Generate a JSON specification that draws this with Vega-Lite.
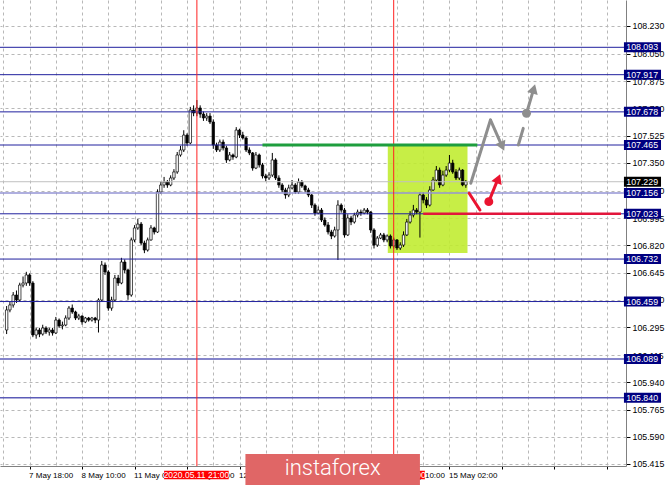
{
  "$schema": "https://vega.github.io/schema/vega-lite/v6.json",
  "width": 626,
  "height": 466,
  "autosize": {"type": "none"},
  "padding": {"left": 0, "top": 0, "right": 39, "bottom": 19},
  "background": "white",
  "config": {"view": {"stroke": null}},
  "resolve": {"axis": {"x": "independent", "y": "independent"}},
  "datasets": {
    "candles": [
      {"i":-7,"o":106.276,"h":106.43,"l":106.25,"c":106.405},
      {"i":-6,"o":106.405,"h":106.46,"l":106.39,"c":106.437},
      {"i":-5,"o":106.437,"h":106.52,"l":106.42,"c":106.501},
      {"i":-4,"o":106.501,"h":106.53,"l":106.45,"c":106.469},
      {"i":-3,"o":106.469,"h":106.58,"l":106.46,"c":106.565},
      {"i":-2,"o":106.565,"h":106.62,"l":106.55,"c":106.578},
      {"i":-1,"o":106.578,"h":106.65,"l":106.56,"c":106.63},
      {"i":0,"o":106.63,"h":106.64,"l":106.56,"c":106.578},
      {"i":1,"o":106.578,"h":106.59,"l":106.23,"c":106.244},
      {"i":2,"o":106.244,"h":106.29,"l":106.22,"c":106.276},
      {"i":3,"o":106.276,"h":106.29,"l":106.23,"c":106.25},
      {"i":4,"o":106.25,"h":106.31,"l":106.24,"c":106.289},
      {"i":5,"o":106.289,"h":106.3,"l":106.25,"c":106.263},
      {"i":6,"o":106.263,"h":106.29,"l":106.24,"c":106.276},
      {"i":7,"o":106.276,"h":106.29,"l":106.24,"c":106.257},
      {"i":8,"o":106.257,"h":106.36,"l":106.25,"c":106.34},
      {"i":9,"o":106.34,"h":106.35,"l":106.29,"c":106.302},
      {"i":10,"o":106.302,"h":106.33,"l":106.28,"c":106.308},
      {"i":11,"o":106.308,"h":106.37,"l":106.3,"c":106.353},
      {"i":12,"o":106.353,"h":106.43,"l":106.34,"c":106.417},
      {"i":13,"o":106.417,"h":106.44,"l":106.38,"c":106.392},
      {"i":14,"o":106.392,"h":106.4,"l":106.34,"c":106.353},
      {"i":15,"o":106.353,"h":106.38,"l":106.34,"c":106.366},
      {"i":16,"o":106.366,"h":106.37,"l":106.31,"c":106.328},
      {"i":17,"o":106.328,"h":106.36,"l":106.32,"c":106.353},
      {"i":18,"o":106.353,"h":106.36,"l":106.33,"c":106.34},
      {"i":19,"o":106.34,"h":106.36,"l":106.33,"c":106.353},
      {"i":20,"o":106.353,"h":106.36,"l":106.32,"c":106.34},
      {"i":21,"o":106.34,"h":106.48,"l":106.26,"c":106.469},
      {"i":22,"o":106.469,"h":106.72,"l":106.46,"c":106.694},
      {"i":23,"o":106.694,"h":106.71,"l":106.63,"c":106.649},
      {"i":24,"o":106.649,"h":106.66,"l":106.4,"c":106.417},
      {"i":25,"o":106.417,"h":106.49,"l":106.4,"c":106.469},
      {"i":26,"o":106.469,"h":106.63,"l":106.46,"c":106.61},
      {"i":27,"o":106.61,"h":106.63,"l":106.56,"c":106.578},
      {"i":28,"o":106.578,"h":106.74,"l":106.57,"c":106.713},
      {"i":29,"o":106.713,"h":106.73,"l":106.64,"c":106.662},
      {"i":30,"o":106.662,"h":106.67,"l":106.47,"c":106.501},
      {"i":31,"o":106.501,"h":106.87,"l":106.49,"c":106.855},
      {"i":32,"o":106.855,"h":106.95,"l":106.84,"c":106.932},
      {"i":33,"o":106.932,"h":106.99,"l":106.92,"c":106.957},
      {"i":34,"o":106.957,"h":106.97,"l":106.82,"c":106.835},
      {"i":35,"o":106.835,"h":106.85,"l":106.77,"c":106.79},
      {"i":36,"o":106.79,"h":106.87,"l":106.78,"c":106.855},
      {"i":37,"o":106.855,"h":106.95,"l":106.85,"c":106.932},
      {"i":38,"o":106.932,"h":106.94,"l":106.89,"c":106.906},
      {"i":39,"o":106.906,"h":107.18,"l":106.9,"c":107.163},
      {"i":40,"o":107.163,"h":107.23,"l":107.15,"c":107.208},
      {"i":41,"o":107.208,"h":107.26,"l":107.19,"c":107.227},
      {"i":42,"o":107.227,"h":107.24,"l":107.19,"c":107.208},
      {"i":43,"o":107.208,"h":107.27,"l":107.2,"c":107.253},
      {"i":44,"o":107.253,"h":107.31,"l":107.24,"c":107.292},
      {"i":45,"o":107.292,"h":107.42,"l":107.28,"c":107.401},
      {"i":46,"o":107.401,"h":107.46,"l":107.39,"c":107.433},
      {"i":47,"o":107.433,"h":107.56,"l":107.42,"c":107.529},
      {"i":48,"o":107.529,"h":107.54,"l":107.46,"c":107.478},
      {"i":49,"o":107.478,"h":107.71,"l":107.47,"c":107.69},
      {"i":50,"o":107.69,"h":107.72,"l":107.65,"c":107.671},
      {"i":51,"o":107.671,"h":107.754,"l":107.65,"c":107.703},
      {"i":52,"o":107.703,"h":107.72,"l":107.64,"c":107.664},
      {"i":53,"o":107.664,"h":107.68,"l":107.62,"c":107.639},
      {"i":54,"o":107.639,"h":107.67,"l":107.62,"c":107.651},
      {"i":55,"o":107.651,"h":107.67,"l":107.6,"c":107.613},
      {"i":56,"o":107.613,"h":107.63,"l":107.44,"c":107.465},
      {"i":57,"o":107.465,"h":107.48,"l":107.42,"c":107.433},
      {"i":58,"o":107.433,"h":107.5,"l":107.42,"c":107.484},
      {"i":59,"o":107.484,"h":107.5,"l":107.43,"c":107.446},
      {"i":60,"o":107.446,"h":107.46,"l":107.35,"c":107.369},
      {"i":61,"o":107.369,"h":107.42,"l":107.36,"c":107.401},
      {"i":62,"o":107.401,"h":107.41,"l":107.37,"c":107.388},
      {"i":63,"o":107.388,"h":107.58,"l":107.38,"c":107.561},
      {"i":64,"o":107.561,"h":107.57,"l":107.51,"c":107.529},
      {"i":65,"o":107.529,"h":107.55,"l":107.5,"c":107.51},
      {"i":66,"o":107.51,"h":107.52,"l":107.42,"c":107.433},
      {"i":67,"o":107.433,"h":107.45,"l":107.4,"c":107.414},
      {"i":68,"o":107.414,"h":107.42,"l":107.3,"c":107.317},
      {"i":69,"o":107.317,"h":107.42,"l":107.31,"c":107.401},
      {"i":70,"o":107.401,"h":107.41,"l":107.32,"c":107.337},
      {"i":71,"o":107.337,"h":107.35,"l":107.25,"c":107.266},
      {"i":72,"o":107.266,"h":107.28,"l":107.23,"c":107.253},
      {"i":73,"o":107.253,"h":107.29,"l":107.24,"c":107.272},
      {"i":74,"o":107.272,"h":107.414,"l":107.26,"c":107.369},
      {"i":75,"o":107.369,"h":107.38,"l":107.24,"c":107.253},
      {"i":76,"o":107.253,"h":107.27,"l":107.19,"c":107.208},
      {"i":77,"o":107.208,"h":107.22,"l":107.16,"c":107.176},
      {"i":78,"o":107.176,"h":107.19,"l":107.12,"c":107.144},
      {"i":79,"o":107.144,"h":107.21,"l":107.13,"c":107.189},
      {"i":80,"o":107.189,"h":107.24,"l":107.18,"c":107.208},
      {"i":81,"o":107.208,"h":107.22,"l":107.15,"c":107.163},
      {"i":82,"o":107.163,"h":107.25,"l":107.15,"c":107.227},
      {"i":83,"o":107.227,"h":107.24,"l":107.19,"c":107.202},
      {"i":84,"o":107.202,"h":107.21,"l":107.16,"c":107.176},
      {"i":85,"o":107.176,"h":107.19,"l":107.13,"c":107.144},
      {"i":86,"o":107.144,"h":107.15,"l":107.06,"c":107.079},
      {"i":87,"o":107.079,"h":107.09,"l":107.01,"c":107.028},
      {"i":88,"o":107.028,"h":107.07,"l":107.02,"c":107.047},
      {"i":89,"o":107.047,"h":107.06,"l":106.97,"c":106.983},
      {"i":90,"o":106.983,"h":107.0,"l":106.94,"c":106.951},
      {"i":91,"o":106.951,"h":106.97,"l":106.89,"c":106.906},
      {"i":92,"o":106.906,"h":106.92,"l":106.86,"c":106.88},
      {"i":93,"o":106.88,"h":106.94,"l":106.87,"c":106.919},
      {"i":94,"o":106.919,"h":107.11,"l":106.726,"c":107.079},
      {"i":95,"o":107.079,"h":107.09,"l":107.03,"c":107.047},
      {"i":96,"o":107.047,"h":107.06,"l":106.87,"c":106.887},
      {"i":97,"o":106.887,"h":107.02,"l":106.88,"c":106.996},
      {"i":98,"o":106.996,"h":107.01,"l":106.95,"c":106.97},
      {"i":99,"o":106.97,"h":107.03,"l":106.96,"c":107.015},
      {"i":100,"o":107.015,"h":107.05,"l":107.0,"c":107.034},
      {"i":101,"o":107.034,"h":107.05,"l":107.01,"c":107.028},
      {"i":102,"o":107.028,"h":107.06,"l":107.02,"c":107.047},
      {"i":103,"o":107.047,"h":107.06,"l":107.02,"c":107.034},
      {"i":104,"o":107.034,"h":107.04,"l":106.9,"c":106.919},
      {"i":105,"o":106.919,"h":106.93,"l":106.8,"c":106.822},
      {"i":106,"o":106.822,"h":106.88,"l":106.81,"c":106.867},
      {"i":107,"o":106.867,"h":106.9,"l":106.86,"c":106.887},
      {"i":108,"o":106.887,"h":106.9,"l":106.84,"c":106.855},
      {"i":109,"o":106.855,"h":106.89,"l":106.84,"c":106.88},
      {"i":110,"o":106.88,"h":106.89,"l":106.8,"c":106.816},
      {"i":111,"o":106.816,"h":106.87,"l":106.8,"c":106.855},
      {"i":112,"o":106.855,"h":106.86,"l":106.79,"c":106.803},
      {"i":113,"o":106.803,"h":106.84,"l":106.79,"c":106.822},
      {"i":114,"o":106.822,"h":106.91,"l":106.81,"c":106.887},
      {"i":115,"o":106.887,"h":106.99,"l":106.88,"c":106.97},
      {"i":116,"o":106.97,"h":107.04,"l":106.96,"c":107.015},
      {"i":117,"o":107.015,"h":107.08,"l":107.0,"c":107.047},
      {"i":118,"o":107.047,"h":107.06,"l":107.02,"c":107.034},
      {"i":119,"o":107.034,"h":107.16,"l":106.87,"c":107.144},
      {"i":120,"o":107.144,"h":107.16,"l":107.09,"c":107.112},
      {"i":121,"o":107.112,"h":107.13,"l":107.06,"c":107.079},
      {"i":122,"o":107.079,"h":107.2,"l":107.07,"c":107.176},
      {"i":123,"o":107.176,"h":107.26,"l":107.17,"c":107.24},
      {"i":124,"o":107.24,"h":107.33,"l":107.23,"c":107.304},
      {"i":125,"o":107.304,"h":107.32,"l":107.19,"c":107.208},
      {"i":126,"o":107.208,"h":107.3,"l":107.2,"c":107.272},
      {"i":127,"o":107.272,"h":107.33,"l":107.26,"c":107.304},
      {"i":128,"o":107.304,"h":107.401,"l":107.29,"c":107.349},
      {"i":129,"o":107.349,"h":107.37,"l":107.28,"c":107.292},
      {"i":130,"o":107.292,"h":107.31,"l":107.24,"c":107.253},
      {"i":131,"o":107.253,"h":107.32,"l":107.24,"c":107.304},
      {"i":132,"o":107.304,"h":107.31,"l":107.2,"c":107.208},
      {"i":133,"o":107.208,"h":107.24,"l":107.19,"c":107.229}
    ],
    "navyLevels": [
      {"p":108.093},{"p":107.917},{"p":107.678},{"p":107.465},{"p":107.023},{"p":106.732},{"p":106.459}
    ],
    "softLevels": [{"p":106.089},{"p":105.84}],
    "lightLevels": [{"p":107.156}],
    "priceLevel": [{"p":107.229}],
    "blueTags": [
      {"p":108.093},{"p":107.917},{"p":107.678},{"p":107.465},{"p":107.156},{"p":107.023},{"p":106.732},{"p":106.459},{"p":106.089},{"p":105.84}
    ],
    "vlines": [{"i":51},{"i":111}],
    "zone": [{"i":109.2,"i2":133.5,"p":106.771,"p2":107.465}],
    "greenSeg": [{"i":71,"i2":136.5,"p":107.465}],
    "redSeg": [{"i":120,"i2":180.3,"p":107.023}],
    "graySegs": [
      {"i":134.5,"p":107.219,"i2":140.5,"p2":107.626},
      {"i":140.5,"p":107.626,"i2":144.0,"p2":107.459},
      {"i":149.0,"p":107.465,"i2":150.5,"p2":107.572},
      {"i":151.5,"p":107.669,"i2":153.6,"p2":107.819}
    ],
    "redSegs": [
      {"i":134.0,"p":107.155,"i2":137.3,"p2":107.047},
      {"i":140.0,"p":107.101,"i2":142.8,"p2":107.247}
    ],
    "grayDots": [{"i":151.5,"p":107.669}],
    "redDots": [{"i":140.0,"p":107.101}],
    "grayHeads": [{"i":144.1,"p":107.456,"a":156},{"i":153.7,"p":107.826,"a":16}],
    "redHeads": [{"i":142.9,"p":107.249,"a":22}],
    "dateTags": [
      {"i":41.0,"i2":60.7,"m":50.85,"t":"2020.05.11 21:00"},
      {"i":100.9,"i2":120.5,"m":110.7,"t":"2020.05.14 09:00"}
    ],
    "banner": [{"i":65.8,"i2":119.0,"m":92.4,"t":"instaforex"}]
  },
  "layer": [
    {
      "data": {"name": "zone"},
      "mark": {"type": "rect", "fill": "#bfec2c", "opacity": 0.88},
      "encoding": {
        "x": {"field": "i", "type": "quantitative", "scale": {"domain": [-7.5, 180.3], "nice": false, "zero": false},
          "axis": {
            "title": null, "orient": "bottom", "zindex": 0,
            "values": [-16,-8,0,8,16,24,32,40,48,56,64,72,80,88,96,104,112,120,128,136,144,152,160,168,176],
            "labelExpr": "datum.value==-16?'7 May 02:00':datum.value==0?'7 May 18:00':datum.value==16?'8 May 10:00':datum.value==32?'11 May 02:00':datum.value==48?'11 May 18:00':datum.value==64?'12 May 10:00':datum.value==80?'13 May 02:00':datum.value==96?'13 May 18:00':datum.value==112?'14 May 10:00':datum.value==128?'15 May 02:00':''",
            "labelAlign": "left", "labelFont": "Liberation Sans", "labelFontSize": 8, "labelColor": "#000000",
            "labelPadding": 2, "labelOverlap": false, "labelOffset": -1,
            "tickSize": 3, "tickColor": "#000000",
            "tickOpacity": {"condition": {"test": "datum.value % 16 === 0", "value": 1}, "value": 0},
            "grid": true, "gridColor": "#b8b8b8", "gridDash": [3, 3], "gridWidth": 1,
            "domainColor": "#808080", "domainWidth": 1
          }
        },
        "x2": {"field": "i2"},
        "y": {"field": "p", "type": "quantitative", "scale": {"domain": [105.402, 108.397], "nice": false, "zero": false},
          "axis": {
            "title": null, "orient": "right", "zindex": 0,
            "values": [105.415,105.59,105.765,105.94,106.115,106.295,106.47,106.645,106.82,106.995,107.17,107.35,107.525,107.7,107.875,108.05,108.23],
            "format": ".3f", "labelFont": "Liberation Sans", "labelFontSize": 8.8, "labelColor": "#000000",
            "labelPadding": 2, "labelOverlap": false,
            "tickSize": 4, "tickColor": "#000000",
            "grid": true, "gridColor": "#b8b8b8", "gridDash": [3, 3], "gridWidth": 1,
            "domainColor": "#808080", "domainWidth": 1
          }
        },
        "y2": {"field": "p2"}
      }
    },
    {
      "data": {"name": "candles"},
      "mark": {"type": "rule", "stroke": "#000000", "strokeWidth": 1},
      "encoding": {
        "x": {"field": "i", "type": "quantitative", "axis": null},
        "y": {"field": "l", "type": "quantitative", "axis": null},
        "y2": {"field": "h"}
      }
    },
    {
      "data": {"name": "candles"},
      "mark": {"type": "bar", "size": 2.4, "stroke": "#000000", "strokeWidth": 0.7},
      "encoding": {
        "x": {"field": "i", "type": "quantitative", "axis": null},
        "y": {"field": "o", "type": "quantitative", "axis": null},
        "y2": {"field": "c"},
        "fill": {"condition": {"test": "datum.c >= datum.o", "value": "#ffffff"}, "value": "#000000"}
      }
    },
    {
      "data": {"name": "priceLevel"},
      "mark": {"type": "rule", "stroke": "#c0c0c0", "strokeWidth": 1},
      "encoding": {"y": {"field": "p", "type": "quantitative", "axis": null}}
    },
    {
      "data": {"name": "navyLevels"},
      "mark": {"type": "rule", "stroke": "#20209e", "strokeWidth": 1},
      "encoding": {"y": {"field": "p", "type": "quantitative", "axis": null}}
    },
    {
      "data": {"name": "softLevels"},
      "mark": {"type": "rule", "stroke": "#5c5cb8", "strokeWidth": 1.5},
      "encoding": {"y": {"field": "p", "type": "quantitative", "axis": null}}
    },
    {
      "data": {"name": "lightLevels"},
      "mark": {"type": "rule", "stroke": "#9494d4", "strokeWidth": 1.5},
      "encoding": {"y": {"field": "p", "type": "quantitative", "axis": null}}
    },
    {
      "data": {"name": "vlines"},
      "mark": {"type": "rule", "stroke": "#ff2020", "strokeWidth": 1},
      "encoding": {"x": {"field": "i", "type": "quantitative", "axis": null}}
    },
    {
      "data": {"name": "greenSeg"},
      "mark": {"type": "rule", "stroke": "#1e9e3e", "strokeWidth": 3},
      "encoding": {
        "x": {"field": "i", "type": "quantitative", "axis": null},
        "x2": {"field": "i2"},
        "y": {"field": "p", "type": "quantitative", "axis": null}
      }
    },
    {
      "data": {"name": "redSeg"},
      "mark": {"type": "rule", "stroke": "#e2163c", "strokeWidth": 2.5},
      "encoding": {
        "x": {"field": "i", "type": "quantitative", "axis": null},
        "x2": {"field": "i2"},
        "y": {"field": "p", "type": "quantitative", "axis": null}
      }
    },
    {
      "data": {"name": "graySegs"},
      "mark": {"type": "rule", "stroke": "#8e8e8e", "strokeWidth": 3, "strokeCap": "round"},
      "encoding": {
        "x": {"field": "i", "type": "quantitative", "axis": null},
        "x2": {"field": "i2"},
        "y": {"field": "p", "type": "quantitative", "axis": null},
        "y2": {"field": "p2"}
      }
    },
    {
      "data": {"name": "redSegs"},
      "mark": {"type": "rule", "stroke": "#ea1430", "strokeWidth": 3, "strokeCap": "round"},
      "encoding": {
        "x": {"field": "i", "type": "quantitative", "axis": null},
        "x2": {"field": "i2"},
        "y": {"field": "p", "type": "quantitative", "axis": null},
        "y2": {"field": "p2"}
      }
    },
    {
      "data": {"name": "grayDots"},
      "mark": {"type": "point", "shape": "circle", "filled": true, "fill": "#8e8e8e", "size": 80, "opacity": 1},
      "encoding": {
        "x": {"field": "i", "type": "quantitative", "axis": null},
        "y": {"field": "p", "type": "quantitative", "axis": null}
      }
    },
    {
      "data": {"name": "redDots"},
      "mark": {"type": "point", "shape": "circle", "filled": true, "fill": "#ea1430", "size": 80, "opacity": 1},
      "encoding": {
        "x": {"field": "i", "type": "quantitative", "axis": null},
        "y": {"field": "p", "type": "quantitative", "axis": null}
      }
    },
    {
      "data": {"name": "grayHeads"},
      "mark": {"type": "point", "shape": "triangle-up", "filled": true, "fill": "#8e8e8e", "size": 120, "opacity": 1},
      "encoding": {
        "x": {"field": "i", "type": "quantitative", "axis": null},
        "y": {"field": "p", "type": "quantitative", "axis": null},
        "angle": {"field": "a", "type": "quantitative", "scale": {"domain": [0, 360], "range": [0, 360]}, "legend": null}
      }
    },
    {
      "data": {"name": "redHeads"},
      "mark": {"type": "point", "shape": "triangle-up", "filled": true, "fill": "#ea1430", "size": 120, "opacity": 1},
      "encoding": {
        "x": {"field": "i", "type": "quantitative", "axis": null},
        "y": {"field": "p", "type": "quantitative", "axis": null},
        "angle": {"field": "a", "type": "quantitative", "scale": {"domain": [0, 360], "range": [0, 360]}, "legend": null}
      }
    },
    {
      "data": {"name": "blueTags"},
      "mark": {"type": "rect", "fill": "#000080", "height": 10},
      "encoding": {
        "x": {"datum": 181.2, "type": "quantitative", "axis": null},
        "x2": {"datum": 192.5},
        "y": {"field": "p", "type": "quantitative", "axis": null}
      }
    },
    {
      "data": {"name": "blueTags"},
      "mark": {"type": "text", "fill": "#ffffff", "align": "left", "baseline": "middle", "font": "Liberation Sans", "fontSize": 8.8},
      "encoding": {
        "x": {"datum": 181.9, "type": "quantitative", "axis": null},
        "y": {"field": "p", "type": "quantitative", "axis": null},
        "text": {"field": "p", "type": "quantitative", "format": ".3f"}
      }
    },
    {
      "data": {"name": "priceLevel"},
      "mark": {"type": "rect", "fill": "#000000", "height": 10},
      "encoding": {
        "x": {"datum": 181.2, "type": "quantitative", "axis": null},
        "x2": {"datum": 192.5},
        "y": {"field": "p", "type": "quantitative", "axis": null}
      }
    },
    {
      "data": {"name": "priceLevel"},
      "mark": {"type": "text", "fill": "#ffffff", "align": "left", "baseline": "middle", "font": "Liberation Sans", "fontSize": 8.8},
      "encoding": {
        "x": {"datum": 181.9, "type": "quantitative", "axis": null},
        "y": {"field": "p", "type": "quantitative", "axis": null},
        "text": {"field": "p", "type": "quantitative", "format": ".3f"}
      }
    },
    {
      "data": {"name": "dateTags"},
      "mark": {"type": "rect", "fill": "#ff0000"},
      "encoding": {
        "x": {"field": "i", "type": "quantitative", "axis": null},
        "x2": {"field": "i2"},
        "y": {"datum": 105.317, "type": "quantitative", "axis": null},
        "y2": {"datum": 105.372}
      }
    },
    {
      "data": {"name": "dateTags"},
      "mark": {"type": "text", "fill": "#ffffff", "align": "center", "baseline": "middle", "font": "Liberation Sans", "fontSize": 8.5},
      "encoding": {
        "x": {"field": "m", "type": "quantitative", "axis": null},
        "y": {"datum": 105.345, "type": "quantitative", "axis": null},
        "text": {"field": "t"}
      }
    },
    {
      "data": {"name": "banner"},
      "mark": {"type": "rect", "fill": "#e06666"},
      "encoding": {
        "x": {"field": "i", "type": "quantitative", "axis": null},
        "x2": {"field": "i2"},
        "y": {"datum": 105.24, "type": "quantitative", "axis": null},
        "y2": {"datum": 105.479}
      }
    },
    {
      "data": {"name": "banner"},
      "mark": {"type": "text", "fill": "#ffffff", "align": "center", "baseline": "middle", "font": "Roboto", "fontWeight": 300, "fontSize": 22},
      "encoding": {
        "x": {"field": "m", "type": "quantitative", "axis": null},
        "y": {"datum": 105.386, "type": "quantitative", "axis": null},
        "text": {"field": "t"}
      }
    }
  ]
}
